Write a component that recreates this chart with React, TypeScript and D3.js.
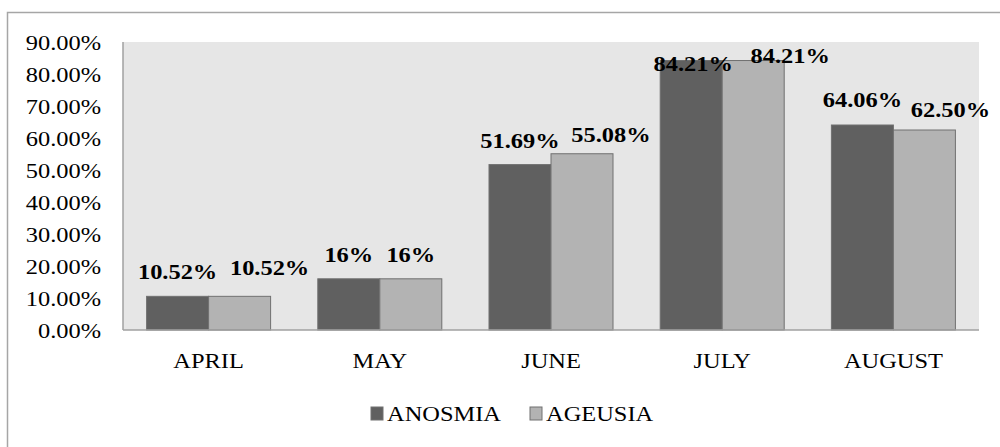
import React from "react";
import * as d3 from "d3";

const categories = ["APRIL", "MAY", "JUNE", "JULY", "AUGUST"];
const seriesNames = ["ANOSMIA", "AGEUSIA"];
const anosmia = [10.52, 16, 51.69, 84.21, 64.06];
const ageusia = [10.52, 16, 55.08, 84.21, 62.5];
const anosmiaLabels = ["10.52%", "16%", "51.69%", "84.21%", "64.06%"];
const ageusiaLabels = ["10.52%", "16%", "55.08%", "84.21%", "62.50%"];
const yTicks = [0, 10, 20, 30, 40, 50, 60, 70, 80, 90];

// label nudges (as placed in the original chart)
const anosmiaLabelDx = [0, 0, 0, 2, 0];
const anosmiaLabelDy = [-17, -17, -17, 10, -18];
const ageusiaLabelDx = [30, 0, 29, 37, 26];
const ageusiaLabelDy = [-21, -17, -12, 2, -13];

const W = 1000;
const H = 447;
const plot = { left: 123, right: 979, top: 42, bottom: 330 };
const colors = ["#606060", "#b3b3b3"];
const font = "Liberation Serif, Times New Roman, serif";
const SX = 1.11;

function T(props: {
  x: number;
  y: number;
  anchor?: "start" | "middle" | "end";
  bold?: boolean;
  size?: number;
  dy?: string;
  children: React.ReactNode;
}) {
  return (
    <text
      transform={`translate(${props.x},${props.y}) scale(${SX},1)`}
      dy={props.dy}
      textAnchor={props.anchor || "start"}
      fontWeight={props.bold ? "bold" : "normal"}
      fontSize={props.size || 22}
      fill="#000"
      style={{ fontFamily: font }}
    >
      {props.children}
    </text>
  );
}

export default function App() {
  const x0 = d3
    .scaleBand<string>()
    .domain(categories)
    .range([plot.left, plot.right])
    .paddingInner(0.2757)
    .paddingOuter(0.2757 / 2);
  const x1 = d3.scaleBand<string>().domain(seriesNames).range([0, x0.bandwidth()]);
  const y = d3.scaleLinear().domain([0, 90]).range([plot.bottom, plot.top]);
  const series = [anosmia, ageusia];
  const labels = [anosmiaLabels, ageusiaLabels];
  const dxs = [anosmiaLabelDx, ageusiaLabelDx];
  const dys = [anosmiaLabelDy, ageusiaLabelDy];
  const fmt = (v: number) => d3.format(".2f")(v) + "%";

  return (
    <svg
      width={W}
      height={H}
      style={{ position: "absolute", left: 0, top: 0, background: "#fff" }}
    >
      {/* outer border */}
      <path d={`M7.5,${H} V12.5 H${W}`} fill="none" stroke="#a6a6a6" strokeWidth={1.5} />
      {/* plot background */}
      <rect
        x={plot.left}
        y={plot.top}
        width={plot.right - plot.left}
        height={plot.bottom - plot.top}
        fill="#e6e6e6"
      />
      {/* y ticks */}
      {yTicks.map((t) => (
        <T key={t} x={101} y={y(t)} dy="0.35em" anchor="end">
          {fmt(t)}
        </T>
      ))}
      {/* bars */}
      {categories.map((c, i) => (
        <g key={c}>
          {series.map((s, j) => (
            <rect
              key={j}
              x={(x0(c) as number) + (x1(seriesNames[j]) as number)}
              y={y(s[i])}
              width={x1.bandwidth()}
              height={y(0) - y(s[i])}
              fill={colors[j]}
              stroke="#707070"
              strokeWidth={1}
            />
          ))}
        </g>
      ))}
      {/* axes lines */}
      <line x1={plot.left} x2={plot.left} y1={plot.top} y2={plot.bottom} stroke="#a0a0a0" strokeWidth={1.5} />
      <line x1={plot.left} x2={plot.right} y1={plot.bottom} y2={plot.bottom} stroke="#a0a0a0" strokeWidth={1.5} />
      {/* value labels */}
      {categories.map((c, i) => (
        <g key={c + "l"}>
          {series.map((s, j) => (
            <T
              key={j}
              x={(x0(c) as number) + (x1(seriesNames[j]) as number) + x1.bandwidth() / 2 + dxs[j][i]}
              y={y(s[i]) + dys[j][i]}
              anchor="middle"
              bold
            >
              {labels[j][i]}
            </T>
          ))}
        </g>
      ))}
      {/* category labels */}
      {categories.map((c) => (
        <T key={c + "c"} x={(x0(c) as number) + x0.bandwidth() / 2} y={368} anchor="middle">
          {c}
        </T>
      ))}
      {/* legend */}
      {seriesNames.map((n, j) => {
        const lx = j === 0 ? 371 : 530;
        return (
          <g key={n}>
            <rect x={lx} y={407} width={12} height={13} fill={colors[j]} stroke="#707070" strokeWidth={1} />
            <T x={lx + 16} y={421}>
              {n}
            </T>
          </g>
        );
      })}
    </svg>
  );
}
